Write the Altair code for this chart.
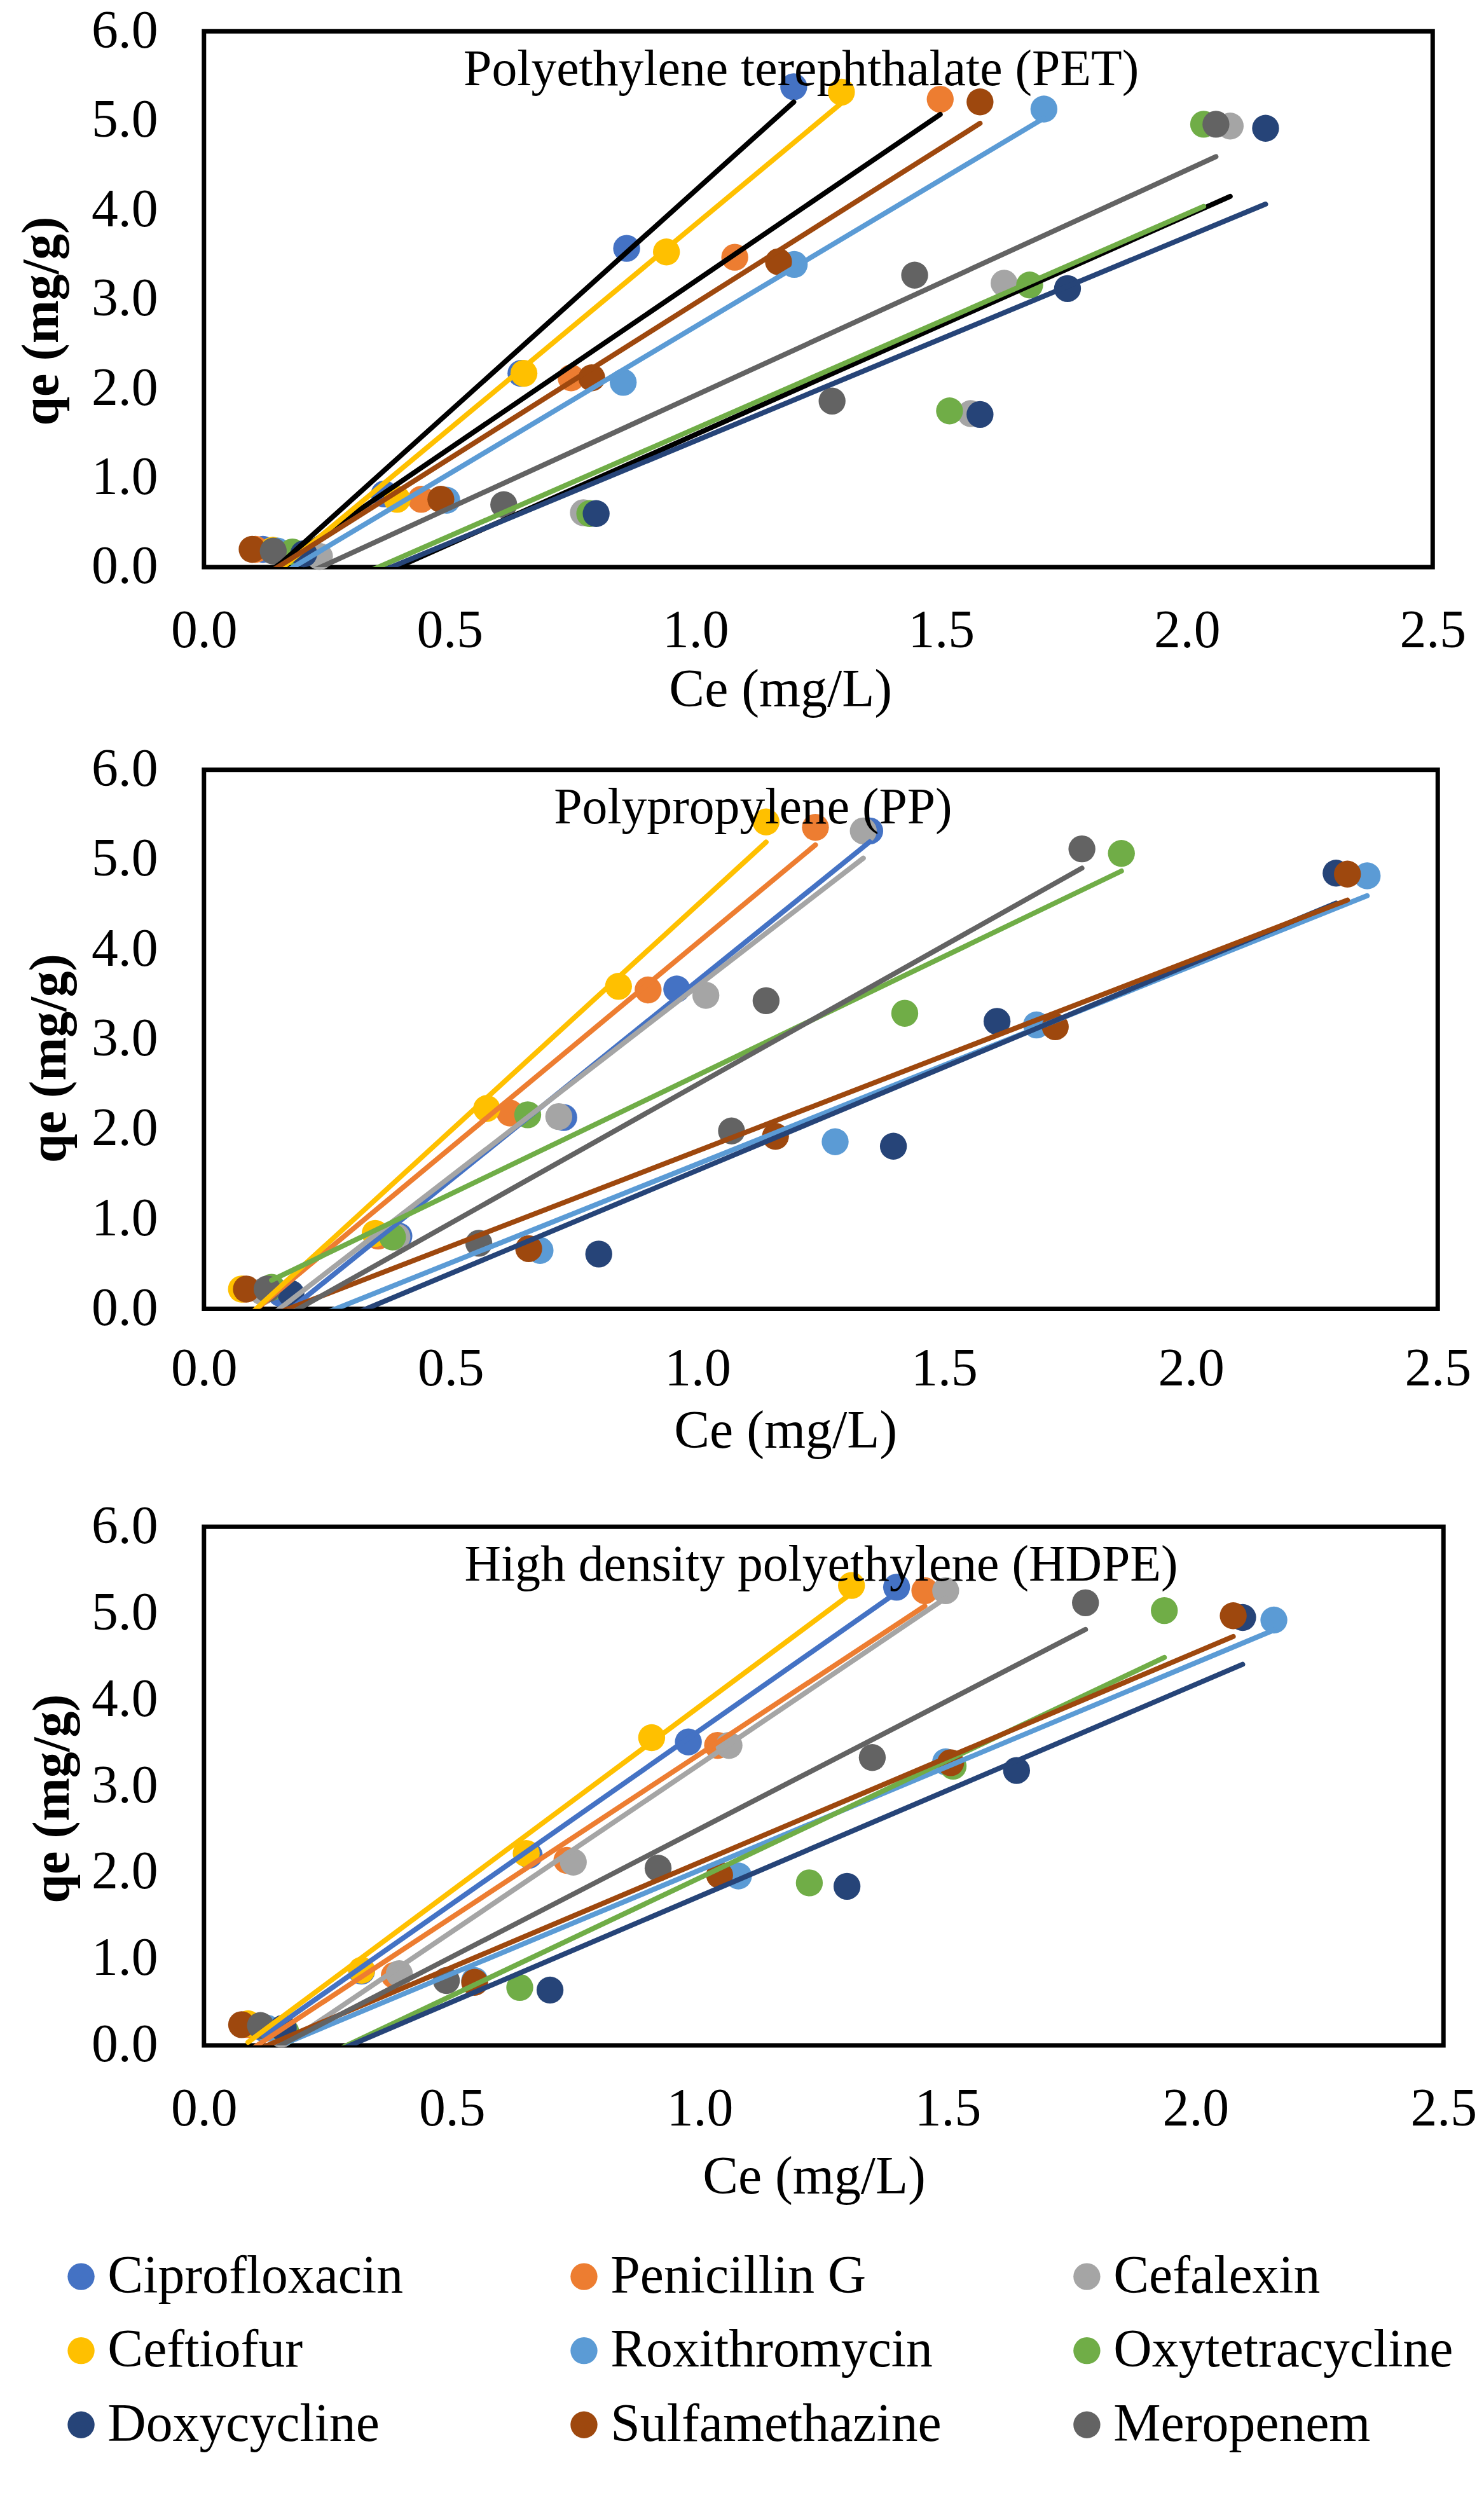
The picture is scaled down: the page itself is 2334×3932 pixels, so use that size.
import altair as alt
import pandas as pd

series = ["Ciprofloxacin", "Penicillin G", "Cefalexin", "Ceftiofur", "Roxithromycin",
          "Oxytetracycline", "Doxycycline", "Sulfamethazine", "Meropenem"]
colors = ["#4472C4", "#ED7D31", "#A5A5A5", "#FFC000", "#5B9BD5",
          "#70AD47", "#264478", "#9E480E", "#636363"]

# Polyethylene terephthalate (PET): Ce (mg/L) and qe (mg/g) per series
pet_ce = [
    [0.12, 0.367, 0.645, 0.86, 1.20],
    [0.105, 0.442, 0.747, 1.08, 1.498],
    [0.235, 0.772, 1.56, 1.628, 2.088],
    [0.14, 0.393, 0.651, 0.941, 1.297],
    [0.15, 0.494, 0.853, 1.201, 1.709],
    [0.18, 0.785, 1.517, 1.68, 2.034],
    [0.203, 0.798, 1.579, 1.757, 2.16],
    [0.098, 0.482, 0.789, 1.169, 1.579],
    [0.141, 0.61, 1.278, 1.446, 2.059],
]
pet_qe = [
    [0.20, 0.82, 2.17, 3.57, 5.38],
    [0.20, 0.76, 2.12, 3.47, 5.24],
    [0.12, 0.61, 1.72, 3.18, 4.94],
    [0.19, 0.76, 2.17, 3.53, 5.32],
    [0.18, 0.75, 2.07, 3.39, 5.13],
    [0.17, 0.60, 1.75, 3.16, 4.96],
    [0.15, 0.60, 1.71, 3.12, 4.915],
    [0.20, 0.76, 2.12, 3.42, 5.21],
    [0.18, 0.70, 1.86, 3.27, 4.96],
]

# Polypropylene (PP)
pp_ce = [
    [0.156, 0.395, 0.729, 0.958, 1.349],
    [0.08, 0.353, 0.62, 0.90, 1.239],
    [0.118, 0.391, 0.719, 1.017, 1.336],
    [0.076, 0.347, 0.573, 0.84, 1.139],
    [0.176, 0.681, 1.279, 1.687, 2.357],
    [0.137, 0.382, 0.656, 1.42, 1.859],
    [0.176, 0.80, 1.397, 1.607, 2.294],
    [0.086, 0.658, 1.158, 1.725, 2.317],
    [0.128, 0.557, 1.069, 1.139, 1.779],
]
pp_qe = [
    [0.17, 0.81, 2.13, 3.56, 5.32],
    [0.22, 0.81, 2.18, 3.55, 5.36],
    [0.19, 0.80, 2.14, 3.49, 5.32],
    [0.22, 0.84, 2.23, 3.59, 5.42],
    [0.17, 0.65, 1.86, 3.16, 4.82],
    [0.24, 0.80, 2.16, 3.29, 5.07],
    [0.17, 0.61, 1.81, 3.20, 4.85],
    [0.22, 0.67, 1.92, 3.14, 4.84],
    [0.22, 0.73, 1.98, 3.43, 5.12],
]

# High density polyethylene (HDPE)
hdpe_ce = [
    [0.12, 0.318, 0.656, 0.977, 1.397],
    [0.089, 0.384, 0.732, 1.036, 1.454],
    [0.156, 0.394, 0.745, 1.059, 1.496],
    [0.089, 0.318, 0.65, 0.903, 1.306],
    [0.127, 0.546, 1.078, 1.496, 2.158],
    [0.165, 0.637, 1.221, 1.511, 1.937],
    [0.16, 0.698, 1.297, 1.639, 2.095],
    [0.076, 0.546, 1.04, 1.506, 2.076],
    [0.114, 0.489, 0.916, 1.348, 1.778],
]
hdpe_qe = [
    [0.20, 0.86, 2.20, 3.51, 5.30],
    [0.24, 0.81, 2.14, 3.47, 5.26],
    [0.13, 0.83, 2.12, 3.47, 5.26],
    [0.25, 0.87, 2.22, 3.56, 5.32],
    [0.20, 0.75, 1.96, 3.28, 4.92],
    [0.16, 0.67, 1.88, 3.23, 5.03],
    [0.20, 0.64, 1.84, 3.18, 4.95],
    [0.24, 0.73, 1.97, 3.27, 4.97],
    [0.23, 0.75, 2.05, 3.33, 5.12],
]

panel_titles = ["Polyethylene terephthalate (PET)", "Polypropylene (PP)",
                "High density polyethylene (HDPE)"]
x_ticks = [0, 0.5, 1.0, 1.5, 2.0, 2.5]
y_ticks = [0, 1, 2, 3, 4, 5, 6]

FONT = "Liberation Serif"


def frame(ce, qe):
    rows = []
    for name, xs, ys in zip(series, ce, qe):
        for x, y in zip(xs, ys):
            rows.append({"series": name, "ce": x, "qe": y})
    return pd.DataFrame(rows)


cscale = alt.Scale(domain=series, range=colors)

legend = alt.Legend(
    orient="none", legendX=-236, legendY=3503, columns=3, direction="horizontal", title=None,
    symbolType="circle", symbolSize=1810, symbolStrokeWidth=0, symbolOpacity=1,
    labelFontSize=84, labelFont=FONT, labelColor="black", labelOffset=0,
    columnPadding=173, rowPadding=33, gridAlign="all", labelLimit=1000, padding=0,
)


def panel(ce, qe, title, w, h, title_dx, y_tp, y_ty, x_lp, x_tp, x_tx, black=None):
    df = frame(ce, qe)
    base = alt.Chart(df)
    xs = alt.Scale(domain=[0, 2.5], nice=False, zero=False)
    ys = alt.Scale(domain=[0, 6], nice=False, zero=False)
    xax = alt.Axis(values=x_ticks, format=".1f", title="Ce (mg/L)", labelPadding=x_lp,
                   titlePadding=x_tp, titleX=x_tx, labelFlush=False, titleFontWeight="normal",
                   grid=False, ticks=False, domain=False)
    yax = alt.Axis(values=y_ticks, format=".1f", title="qe (mg/g)", labelPadding=73,
                   titlePadding=y_tp, titleY=y_ty, labelFlush=False, titleFontWeight="bold",
                   titleFontSize=82, grid=False, ticks=False, domain=False)
    pts = base.mark_circle(size=1810, opacity=1).encode(
        x=alt.X("ce:Q", scale=xs, axis=xax),
        y=alt.Y("qe:Q", scale=ys, axis=yax),
        color=alt.Color("series:N", scale=cscale, legend=legend),
    )
    stroke_field = alt.Stroke("series:N", scale=cscale, legend=None)
    if black:
        test = " || ".join(f"datum.series === '{b}'" for b in black)
        stroke = alt.condition(test, alt.value("black"), stroke_field)
    else:
        stroke = stroke_field
    lines = base.transform_regression(
        "ce", "qe", groupby=["series"], method="linear"
    ).mark_line(strokeWidth=8, clip=True, strokeCap="round").encode(
        x=alt.X("ce:Q", scale=xs),
        y=alt.Y("qe:Q", scale=ys),
        stroke=stroke,
        detail="series:N",
    )
    label = alt.Chart(pd.DataFrame({"t": [title]})).mark_text(
        font=FONT, fontSize=80, baseline="alphabetic", align="center", color="black"
    ).encode(text="t:N", x=alt.value(w / 2 + title_dx), y=alt.value(85))
    return alt.layer(pts, lines, label).properties(width=w, height=h)


p1 = panel(pet_ce, pet_qe, panel_titles[0], 1940, 846, -27, 36, 457, 60, 10, 910,
           black=["Ciprofloxacin", "Penicillin G", "Cefalexin"])
p2 = panel(pp_ce, pp_qe, panel_titles[1], 1948, 851, -107, 24, 455, 54, 16, 918)
p3 = panel(hdpe_ce, hdpe_qe, panel_titles[2], 1957, 819, -4, 19, 429, 60, 24, 963)

chart = alt.vconcat(alt.vconcat(p1, p2, spacing=34), p3, spacing=58).properties(
    padding={"left": 13, "top": -12, "right": 0, "bottom": 0}
).configure(
    font=FONT
).configure_view(
    stroke="black", strokeWidth=7
).configure_axis(
    domain=False, grid=False, ticks=False, labelFont=FONT, titleFont=FONT,
    labelFontSize=84, titleFontSize=84, labelColor="black", titleColor="black",
)

chart.save("out.html", embed_options={"renderer": "svg", "actions": False})
